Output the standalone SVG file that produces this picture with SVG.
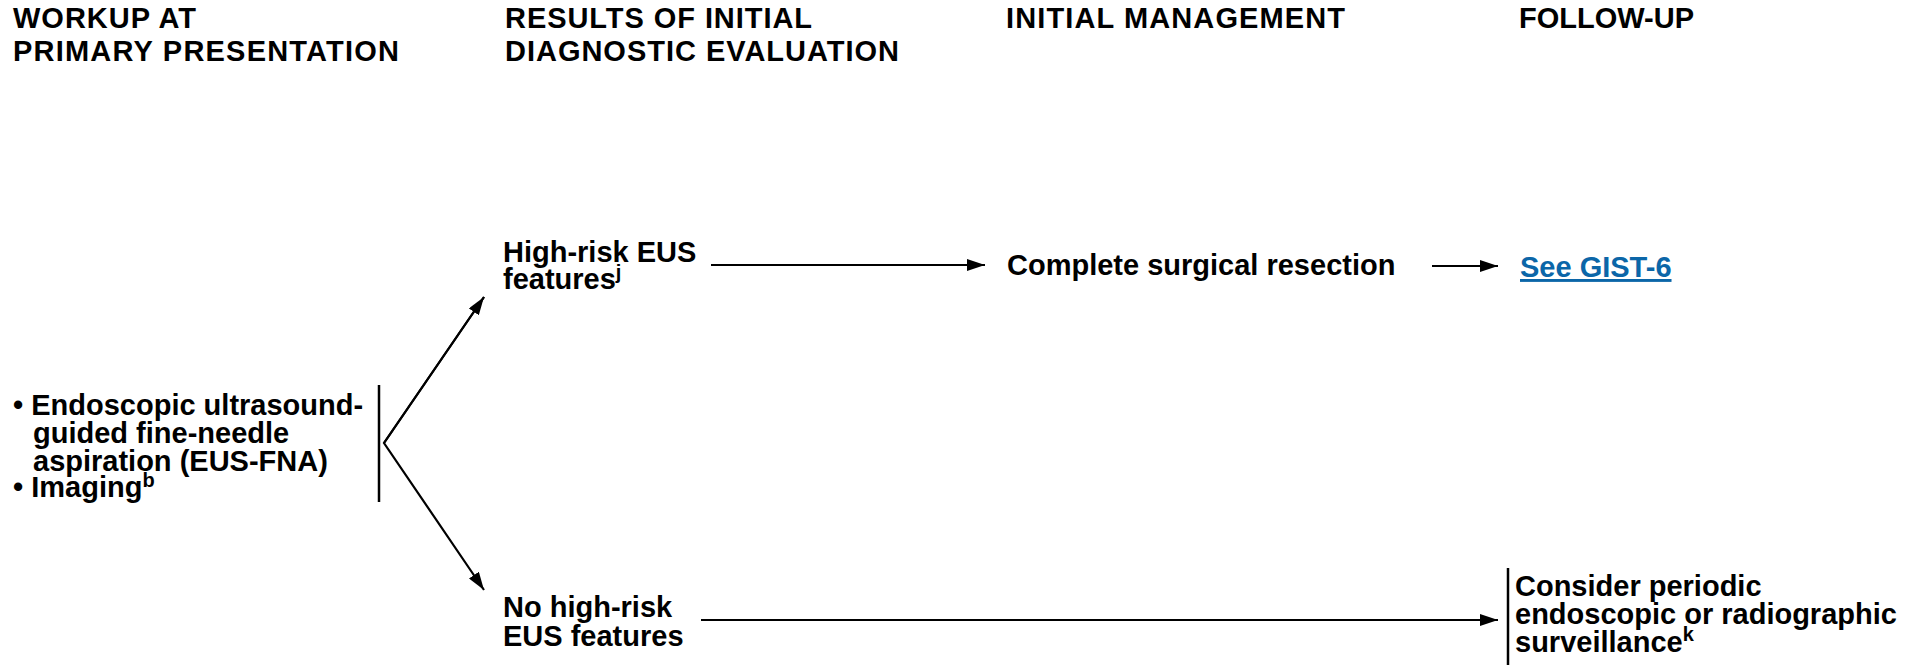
<svg xmlns="http://www.w3.org/2000/svg" width="1923" height="665" viewBox="0 0 1923 665">
  <style>
    text { font-family: "Liberation Sans", Arial, sans-serif; font-weight: bold; font-size: 29px; fill: #000; }
    .sup { font-size: 20px; }
    .link { fill: #0b66a8; text-decoration: underline; }
    .conn { stroke: #000; stroke-width: 2.2; fill: none; }
    .bar { stroke: #000; stroke-width: 2.5; fill: none; }
  </style>
  <defs>
    <marker id="arrow" markerUnits="userSpaceOnUse" markerWidth="18" markerHeight="12" refX="18" refY="6" orient="auto">
      <path d="M0,0 L18,6 L0,12 z" fill="#000"/>
    </marker>
  </defs>
  <rect width="1923" height="665" fill="#fff"/>

  <g id="headers">
    <text x="13" y="28" textLength="183" lengthAdjust="spacing">WORKUP AT</text>
    <text x="13" y="61" textLength="386" lengthAdjust="spacing">PRIMARY PRESENTATION</text>
    <text x="505" y="28" textLength="307" lengthAdjust="spacing">RESULTS OF INITIAL</text>
    <text x="505" y="61" textLength="394" lengthAdjust="spacing">DIAGNOSTIC EVALUATION</text>
    <text x="1006" y="28" textLength="339" lengthAdjust="spacing">INITIAL MANAGEMENT</text>
    <text x="1519" y="28" textLength="175" lengthAdjust="spacing">FOLLOW-UP</text>
  </g>

  <g id="workup">
    <text x="13" y="415">• Endoscopic ultrasound-</text>
    <text x="33" y="443">guided fine-needle</text>
    <text x="33" y="471">aspiration (EUS-FNA)</text>
    <text x="13" y="497">• Imaging<tspan class="sup" dy="-10">b</tspan></text>
    <line class="bar" x1="379" y1="385" x2="379" y2="502"/>
  </g>

  <g id="high-risk">
    <text x="503" y="262">High-risk EUS</text>
    <text x="503" y="289">features<tspan class="sup" dy="-10">j</tspan></text>
  </g>

  <g id="no-high-risk">
    <text x="503" y="617">No high-risk</text>
    <text x="503" y="646">EUS features</text>
  </g>

  <g id="resection">
    <text x="1007" y="275">Complete surgical resection</text>
  </g>

  <g id="see-gist6">
    <text class="link" x="1520" y="277">See GIST-6</text>
  </g>

  <g id="surveillance">
    <line class="bar" x1="1508" y1="568" x2="1508" y2="665"/>
    <text x="1515" y="596">Consider periodic</text>
    <text x="1515" y="624">endoscopic or radiographic</text>
    <text x="1515" y="652">surveillance<tspan class="sup" dy="-11">k</tspan></text>
  </g>

  <g id="connectors">
    <polyline class="conn" points="484,297 384,443 484,590" marker-end="url(#arrow)"/>
    <line class="conn" x1="384" y1="443" x2="484" y2="297" marker-end="url(#arrow)"/>
    <line class="conn" x1="711" y1="265" x2="985" y2="265" marker-end="url(#arrow)"/>
    <line class="conn" x1="1432" y1="266" x2="1498" y2="266" marker-end="url(#arrow)"/>
    <line class="conn" x1="701" y1="620" x2="1498" y2="620" marker-end="url(#arrow)"/>
  </g>
</svg>
